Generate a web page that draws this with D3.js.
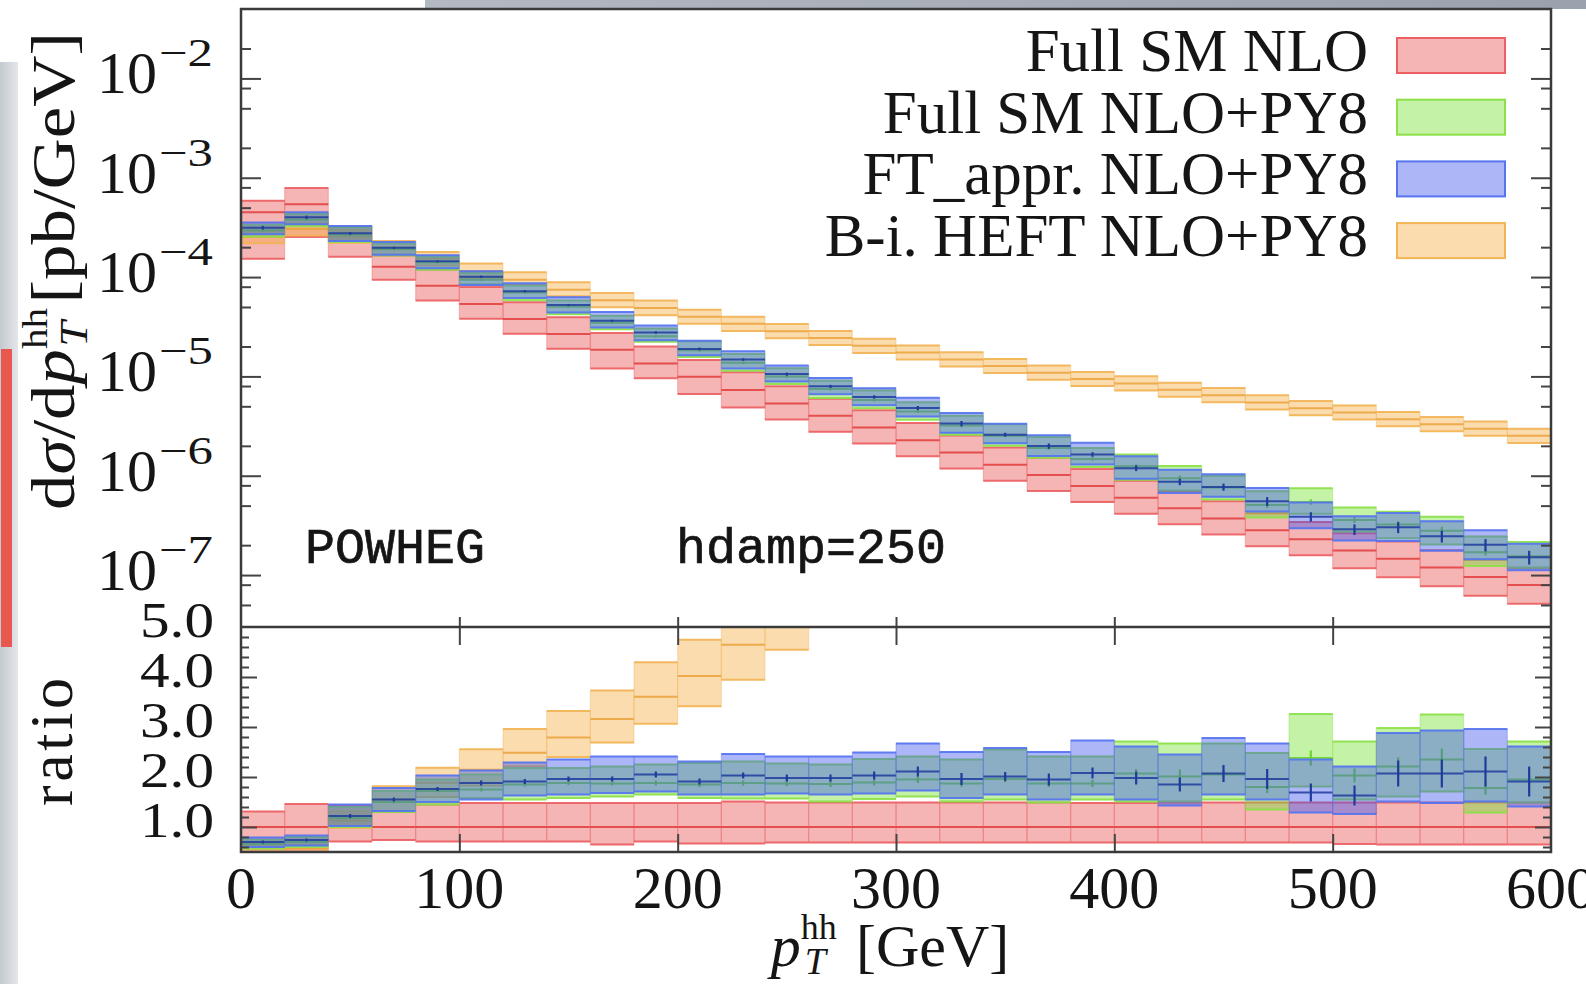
<!DOCTYPE html>
<html>
<head>
<meta charset="utf-8">
<script src="https://cdn.jsdelivr.net/npm/d3@7"></script>
<style>
  html, body { margin: 0; padding: 0; background: #fff; }
  svg { display: block; }
  text { font-family: "Liberation Serif", "DejaVu Serif", serif; fill: #151515; }
  .mono { font-family: "Liberation Mono", "DejaVu Sans Mono", monospace; stroke: #151515; stroke-width: 0.7; }
  .tick line { stroke: #444; stroke-width: 2; }
</style>
</head>
<body>
<svg id="chart" width="1586" height="984"></svg>
<script>
// ---- data ----
const edges = [0, 20, 40, 60, 80, 100, 120, 140, 160, 180, 200, 220, 240, 260, 280, 300,
  320, 340, 360, 380, 400, 420, 440, 460, 480, 500, 520, 540, 560, 580, 600];

// Full SM NLO central value, pb/GeV
const nloCentral = [4.49e-4, 5.40e-4, 2.26e-4, 1.27e-4, 8.18e-5, 5.36e-5, 3.78e-5, 2.67e-5, 1.85e-5, 1.35e-5,
  9.9e-6, 7.28e-6, 5.33e-6, 4.01e-6, 3.06e-6, 2.28e-6, 1.71e-6, 1.29e-6, 1.02e-6, 7.88e-7,
  6.02e-7, 4.70e-7, 3.72e-7, 2.82e-7, 2.29e-7, 1.77e-7, 1.46e-7, 1.19e-7, 9.55e-8, 7.93e-8];
// its scale band, as ratio to the central value
const nloLo = [0.34, 0.47, 0.71, 0.74, 0.71, 0.71, 0.71, 0.71, 0.65, 0.71, 0.67, 0.67, 0.69, 0.69, 0.69,
  0.69, 0.69, 0.69, 0.69, 0.69, 0.69, 0.69, 0.69, 0.69, 0.69, 0.66, 0.65, 0.65, 0.65, 0.65];
const nloHi = [1.31, 1.46, 1.42, 1.30, 1.45, 1.48, 1.48, 1.48, 1.48, 1.48, 1.48, 1.51, 1.49, 1.49, 1.49,
  1.49, 1.49, 1.49, 1.49, 1.48, 1.48, 1.49, 1.49, 1.49, 1.49, 1.49, 1.49, 1.49, 1.49, 1.49];

// Full SM NLO+PY8, ratio to Full SM NLO
const py8Ratio = [0.66, 0.70, 1.18, 1.50, 1.72, 1.75, 1.85, 1.88, 1.87, 1.88, 1.85, 1.88, 1.87, 1.86, 1.89,
  1.95, 1.87, 1.96, 1.87, 1.87, 2.07, 2.01, 2.05, 1.80, 2.38, 2.03, 2.21, 2.35, 1.78, 1.95];
const py8Lo = [0.57, 0.60, 1.00, 1.30, 1.45, 1.58, 1.55, 1.58, 1.61, 1.65, 1.58, 1.57, 1.57, 1.51, 1.56,
  1.61, 1.51, 1.55, 1.49, 1.55, 1.51, 1.51, 1.55, 1.35, 1.81, 1.55, 1.61, 1.71, 1.29, 1.49];
const py8Hi = [0.75, 0.80, 1.40, 1.72, 1.95, 2.05, 2.18, 2.18, 2.21, 2.25, 2.28, 2.31, 2.27, 2.25, 2.36,
  2.41, 2.35, 2.55, 2.41, 2.41, 2.71, 2.67, 2.67, 2.48, 3.26, 2.71, 2.98, 3.25, 2.56, 2.71];
const py8Err = [0.02, 0.02, 0.03, 0.03, 0.03, 0.04, 0.04, 0.04, 0.04, 0.05, 0.05, 0.05, 0.05, 0.06, 0.06,
  0.07, 0.07, 0.07, 0.07, 0.07, 0.09, 0.14, 0.08, 0.12, 0.15, 0.14, 0.18, 0.22, 0.13, 0.10];

// FT_approx NLO+PY8, ratio to Full SM NLO
const ftRatio = [0.70, 0.74, 1.22, 1.55, 1.76, 1.88, 1.91, 1.96, 1.96, 2.05, 1.91, 2.03, 1.98, 1.98, 2.03,
  2.11, 1.96, 2.01, 1.95, 2.08, 1.98, 1.85, 2.07, 1.96, 1.69, 1.63, 2.07, 2.07, 2.11, 1.91];
const ftLo = [0.60, 0.63, 1.02, 1.32, 1.50, 1.55, 1.63, 1.65, 1.68, 1.71, 1.65, 1.65, 1.67, 1.65, 1.67,
  1.73, 1.58, 1.65, 1.55, 1.65, 1.55, 1.43, 1.65, 1.55, 1.29, 1.26, 1.51, 1.48, 1.51, 1.41];
const ftHi = [0.79, 0.83, 1.45, 1.78, 2.03, 2.13, 2.29, 2.35, 2.41, 2.41, 2.31, 2.46, 2.41, 2.41, 2.49,
  2.67, 2.50, 2.58, 2.50, 2.73, 2.61, 2.45, 2.78, 2.67, 2.35, 2.21, 2.88, 2.93, 2.96, 2.61];
const ftErr = [0.03, 0.03, 0.04, 0.04, 0.04, 0.05, 0.05, 0.05, 0.05, 0.06, 0.06, 0.06, 0.07, 0.07, 0.08,
  0.10, 0.12, 0.09, 0.12, 0.11, 0.13, 0.14, 0.17, 0.20, 0.18, 0.20, 0.26, 0.28, 0.30, 0.30];

// B-i. HEFT NLO+PY8, pb/GeV, with its band relative to its central value
const heftCentral = [2.55e-4, 3.05e-4, 2.55e-4, 1.97e-4, 1.54e-4, 1.15e-4, 9.4e-5, 7.45e-5, 5.85e-5, 4.87e-5,
  3.98e-5, 3.38e-5, 2.85e-5, 2.43e-5, 2.03e-5, 1.74e-5, 1.48e-5, 1.27e-5, 1.09e-5, 9.4e-6,
  8.5e-6, 7.33e-6, 6.47e-6, 5.46e-6, 4.79e-6, 4.33e-6, 3.71e-6, 3.30e-6, 2.98e-6, 2.52e-6];
const heftLo = [0.86, 0.86, 0.87, 0.85, 0.85, 0.85, 0.89, 0.86, 0.85, 0.85, 0.85, 0.85, 0.85, 0.85, 0.85,
  0.85, 0.85, 0.85, 0.85, 0.85, 0.85, 0.85, 0.85, 0.85, 0.85, 0.85, 0.85, 0.85, 0.85, 0.85];
const heftHi = [1.14, 1.14, 1.17, 1.17, 1.16, 1.19, 1.19, 1.19, 1.18, 1.19, 1.18, 1.18, 1.18, 1.18, 1.18,
  1.18, 1.18, 1.18, 1.18, 1.18, 1.18, 1.18, 1.18, 1.18, 1.18, 1.18, 1.18, 1.18, 1.18, 1.18];

const legendNames = ["Full SM NLO", "Full SM NLO+PY8", "FT_appr. NLO+PY8", "B-i. HEFT NLO+PY8"];
const xTickValues = [0, 100, 200, 300, 400, 500, 600];
const topTickExps = [-2, -3, -4, -5, -6, -7];
const minorMantissas = [2, 5, 8];
const ratioTickValues = [1, 2, 3, 4, 5];

// ---- layout ----
const L = 241, R = 1551, TOP = 9, MID = 627, BOT = 852;
const svg = d3.select("#chart");

const x = d3.scaleLinear().domain([0, 600]).range([L, R]);
const yTop = d3.scaleLog().domain([3e-8, 5e-2]).range([MID, TOP]);
const yRat = d3.scaleLinear().domain([0.5, 5]).range([BOT, MID]);

// background and slide leftovers
svg.append("rect").attr("width", 1586).attr("height", 984).attr("fill", "#fff");
const defs = svg.append("defs");
const grad = defs.append("linearGradient").attr("id", "strip").attr("x1", 0).attr("x2", 1);
grad.append("stop").attr("offset", 0).attr("stop-color", "#c4c9d1");
grad.append("stop").attr("offset", 1).attr("stop-color", "#e4e6ea");
svg.append("rect").attr("x", 0).attr("y", 62).attr("width", 18).attr("height", 922).attr("fill", "url(#strip)");
svg.append("rect").attr("x", 1).attr("y", 349).attr("width", 11).attr("height", 298).attr("fill", "#e8584e");
const gradTop = defs.append("linearGradient").attr("id", "bar").attr("x1", 0).attr("x2", 1);
gradTop.append("stop").attr("offset", 0).attr("stop-color", "#b3b9c2");
gradTop.append("stop").attr("offset", 1).attr("stop-color", "#9aa2ae");
svg.append("rect").attr("x", 425).attr("y", 0).attr("width", 1161).attr("height", 9).attr("fill", "url(#bar)");

defs.append("clipPath").attr("id", "clipTop")
  .append("rect").attr("x", L).attr("y", TOP).attr("width", R - L).attr("height", MID - TOP);
defs.append("clipPath").attr("id", "clipRat")
  .append("rect").attr("x", L).attr("y", MID).attr("width", R - L).attr("height", BOT - MID);

// ---- series ----
function makeBins(rc, rlo, rhi, rerr) {
  return nloCentral.map((ref, i) => {
    const e = rerr ? rerr[i] : 0;
    return {
      x0: edges[i], x1: edges[i + 1],
      rat: { c: rc[i], lo: rlo[i], hi: rhi[i], e: e },
      abs: { c: rc[i] * ref, lo: rlo[i] * ref, hi: rhi[i] * ref, e: e * ref }
    };
  });
}
const heftRatio = heftCentral.map((v, i) => v / nloCentral[i]);

// fills are semi-transparent so overlaps mix like the original
const series = [
  { name: legendNames[0], fill: "rgb(230,60,60)", alpha: 0.38, edge: "#ec6064", mid: "#e03c3c",
    bins: makeBins(nloCentral.map(() => 1), nloLo, nloHi, null) },
  { name: legendNames[3], fill: "rgb(245,168,55)", alpha: 0.4, edge: "#f2b455", mid: "#eaa23a",
    bins: makeBins(heftRatio, heftRatio.map((r, i) => r * heftLo[i]), heftRatio.map((r, i) => r * heftHi[i]), null) },
  { name: legendNames[1], fill: "rgb(115,225,45)", alpha: 0.42, edge: "#8ce04a", mid: "#6cd22c",
    bins: makeBins(py8Ratio, py8Lo, py8Hi, py8Err) },
  { name: legendNames[2], fill: "rgb(60,80,235)", alpha: 0.42, edge: "#5574ee", mid: "#1f3c9c",
    bins: makeBins(ftRatio, ftLo, ftHi, ftErr) }
];

function drawBands(layer, s, y, key) {
  const g = layer.append("g");
  const b = g.selectAll("g").data(s.bins).join("g");
  b.append("rect")
    .attr("x", d => x(d.x0)).attr("width", d => x(d.x1) - x(d.x0))
    .attr("y", d => y(d[key].hi)).attr("height", d => y(d[key].lo) - y(d[key].hi))
    .attr("fill", s.fill).attr("fill-opacity", s.alpha)
    .attr("stroke", s.edge).attr("stroke-opacity", 0.35).attr("stroke-width", 1.2);
  ["hi", "lo"].forEach(k => {
    b.append("line")
      .attr("x1", d => x(d.x0)).attr("x2", d => x(d.x1))
      .attr("y1", d => y(d[key][k])).attr("y2", d => y(d[key][k]))
      .attr("stroke", s.edge).attr("stroke-opacity", 0.9).attr("stroke-width", 2);
  });
  b.append("line")
    .attr("x1", d => x(d.x0)).attr("x2", d => x(d.x1))
    .attr("y1", d => y(d[key].c)).attr("y2", d => y(d[key].c))
    .attr("stroke", s.mid).attr("stroke-opacity", 0.85).attr("stroke-width", 2);
  b.filter(d => d[key].e > 0).append("line")
    .attr("x1", d => x((d.x0 + d.x1) / 2)).attr("x2", d => x((d.x0 + d.x1) / 2))
    .attr("y1", d => y(d[key].c - d[key].e)).attr("y2", d => y(d[key].c + d[key].e))
    .attr("stroke", s.mid).attr("stroke-width", 2.2);
}

const topLayer = svg.append("g").attr("clip-path", "url(#clipTop)");
const ratLayer = svg.append("g").attr("clip-path", "url(#clipRat)");
series.forEach(s => {
  drawBands(topLayer, s, yTop, "abs");
  drawBands(ratLayer, s, yRat, "rat");
});

// ---- axes ----
const majors = topTickExps.map(e => Math.pow(10, e));
const minors = [];
[-8, -7, -6, -5, -4, -3, -2].forEach(e => minorMantissas.forEach(m => {
  const v = m * Math.pow(10, e);
  if (v > 3e-8 && v < 5e-2) minors.push(v);
}));
const ratMinor = d3.range(6, 50, 2).map(v => v / 10).filter(v => v % 1 !== 0);

function ticks(axis, tx, ty) {
  const g = svg.append("g").attr("transform", `translate(${tx},${ty})`).call(axis);
  g.select(".domain").remove();
  g.selectAll("text").remove();
}
ticks(d3.axisRight(yTop).tickValues(majors).tickSize(20), L, 0);
ticks(d3.axisRight(yTop).tickValues(minors).tickSize(10), L, 0);
ticks(d3.axisLeft(yTop).tickValues(majors).tickSize(20), R, 0);
ticks(d3.axisLeft(yTop).tickValues(minors).tickSize(10), R, 0);
ticks(d3.axisRight(yRat).tickValues([1, 2, 3, 4]).tickSize(16), L, 0);
ticks(d3.axisRight(yRat).tickValues(ratMinor).tickSize(8), L, 0);
ticks(d3.axisLeft(yRat).tickValues([1, 2, 3, 4]).tickSize(16), R, 0);
ticks(d3.axisLeft(yRat).tickValues(ratMinor).tickSize(8), R, 0);
ticks(d3.axisTop(x).tickValues(xTickValues.slice(1, -1)).tickSize(10), 0, MID);
ticks(d3.axisBottom(x).tickValues(xTickValues.slice(1, -1)).tickSize(18), 0, MID);
ticks(d3.axisTop(x).tickValues(xTickValues.slice(1, -1)).tickSize(18), 0, BOT);

// frame
svg.append("rect").attr("x", L).attr("y", TOP).attr("width", R - L).attr("height", BOT - TOP)
  .attr("fill", "none").attr("stroke", "#3a3a3a").attr("stroke-width", 2.5);
svg.append("line").attr("x1", L).attr("x2", R).attr("y1", MID).attr("y2", MID)
  .attr("stroke", "#3a3a3a").attr("stroke-width", 2.5);

// tick labels
topTickExps.forEach(e => {
  const ty = yTop(Math.pow(10, e));
  svg.append("text").attr("x", 157).attr("y", ty + 15).attr("text-anchor", "end")
    .attr("font-size", 60).text("10");
  svg.append("text").attr("x", 159).attr("y", ty - 12).attr("font-size", 40)
    .attr("textLength", 54).attr("lengthAdjust", "spacingAndGlyphs").text("\u2212" + (-e));
});
ratioTickValues.forEach(v => {
  svg.append("text").attr("x", 214).attr("y", yRat(v) + 10).attr("text-anchor", "end")
    .attr("font-size", 51).attr("textLength", 74).attr("lengthAdjust", "spacingAndGlyphs")
    .text(d3.format(".1f")(v));
});
xTickValues.forEach(v => {
  svg.append("text").attr("x", x(v)).attr("y", 908).attr("text-anchor", "middle")
    .attr("font-size", 60).text(v);
});

// axis titles
const yl = svg.append("text").attr("transform", "translate(74,271) rotate(-90)")
  .attr("text-anchor", "middle").attr("font-size", 62)
  .attr("textLength", 478).attr("lengthAdjust", "spacingAndGlyphs");
yl.append("tspan").text("d");
yl.append("tspan").attr("font-style", "italic").text("\u03c3");
yl.append("tspan").text("/d");
yl.append("tspan").attr("font-style", "italic").text("p");
yl.append("tspan").attr("font-size", 36).attr("dy", -27).text("hh");
yl.append("tspan").attr("font-size", 40).attr("font-style", "italic").attr("dx", -34).attr("dy", 40).text("T");
yl.append("tspan").attr("dy", -13).text("\u00a0[pb/GeV]");

svg.append("text").attr("transform", "translate(72,742) rotate(-90)")
  .attr("text-anchor", "middle").attr("font-size", 62)
  .attr("textLength", 128).attr("lengthAdjust", "spacing").text("ratio");

const xl = svg.append("text").attr("x", 890).attr("y", 966).attr("text-anchor", "middle").attr("font-size", 60);
xl.append("tspan").attr("font-style", "italic").text("p");
xl.append("tspan").attr("font-size", 36).attr("dy", -27).text("hh");
xl.append("tspan").attr("font-size", 38).attr("font-style", "italic").attr("dx", -32).attr("dy", 35).text("T");
xl.append("tspan").attr("dy", -8).text("\u00a0\u00a0[GeV]");

// annotations
svg.append("text").attr("class", "mono").attr("x", 305).attr("y", 563).attr("font-size", 50).text("POWHEG");
svg.append("text").attr("class", "mono").attr("x", 676).attr("y", 563).attr("font-size", 50).text("hdamp=250");

// legend
const legendOrder = [series[0], series[2], series[3], series[1]];
legendOrder.forEach((s, i) => {
  const by = 71 + i * 61.7;
  svg.append("text").attr("x", 1368).attr("y", by).attr("text-anchor", "end")
    .attr("font-size", 61).text(s.name);
  svg.append("rect").attr("x", 1397).attr("y", by - 33).attr("width", 108).attr("height", 35)
    .attr("fill", s.fill).attr("fill-opacity", s.alpha)
    .attr("stroke", s.edge).attr("stroke-width", 2);
});
</script>
</body>
</html>
